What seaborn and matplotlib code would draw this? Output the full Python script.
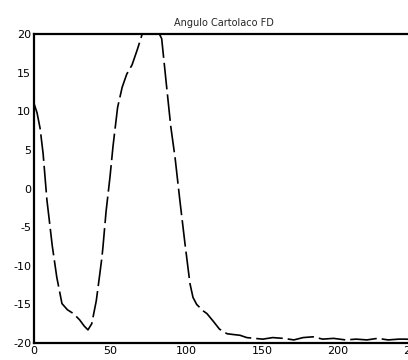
#!/usr/bin/env python3
"""Angulo curve, MATLAB-style single line plot."""

import pandas as pd
import matplotlib
matplotlib.use('Agg')
import matplotlib.pyplot as plt
import seaborn as sns

# values
frames = [0, 2, 4, 6, 8.5, 10, 12, 15, 18.4, 22, 26, 30, 33, 35.5, 38, 41, 43,
          44.7, 45.4, 47.4, 50, 52, 55, 58, 61, 64.5, 68, 72, 76, 80, 84, 87.5,
          90, 92.8, 96, 99.3, 102.6, 104.6, 107, 109, 111, 113.8, 118, 122, 127,
          131, 135.5, 140, 145, 150.6, 157, 164, 171, 177, 183.5, 190, 197, 205,
          212, 219, 226, 233, 240, 245, 250]
angle = [11, 9.8, 7.8, 4.5, -1.5, -4, -7.4, -11.5, -14.9, -15.7, -16.2, -17,
         -17.8, -18.3, -17.5, -14.5, -11.5, -8.9, -7.5, -3, 1.5, 5.5, 10.5,
         13.1, 14.8, 16, 18, 20.5, 21.5, 21, 19.4, 12.7, 8, 4, -1.6, -7.1,
         -12.3, -14.1, -15, -15.4, -15.8, -16.2, -17.2, -18.2, -18.8, -18.9,
         -19, -19.3, -19.4, -19.5, -19.3, -19.4, -19.6, -19.3, -19.2, -19.5,
         -19.4, -19.6, -19.5, -19.6, -19.4, -19.6, -19.5, -19.5, -19.6]
xticks = [0, 50, 100, 150, 200, 250]
yticks = [-20, -15, -10, -5, 0, 5, 10, 15, 20]
title = 'Angulo Cartolaco FD'

df = pd.DataFrame({'frame': frames, 'angle': angle})

sns.set_style('white')
plt.rcParams['font.family'] = ['DejaVu Sans']
plt.rcParams['axes.unicode_minus'] = False

fig = plt.figure(figsize=(4.08, 3.6), dpi=100)
ax = fig.add_axes([34 / 408, 17 / 360, 380 / 408, 309 / 360])

sns.lineplot(data=df, x='frame', y='angle', ax=ax, color='black',
             linewidth=1.2, sort=False, linestyle=(0, (16, 3)))

ax.set_xlim(0, 250)
ax.set_ylim(-20, 20)
ax.set_xticks(xticks)
ax.set_yticks(yticks)
ax.tick_params(direction='in', length=3, pad=2, labelsize=8, colors='black')
ax.set_xlabel('')
ax.set_ylabel('')
ax.set_title(title, fontsize=7, pad=6)
for sp in ax.spines.values():
    sp.set_color('black')
    sp.set_linewidth(1.6)

fig.savefig('out.png', dpi=100)
